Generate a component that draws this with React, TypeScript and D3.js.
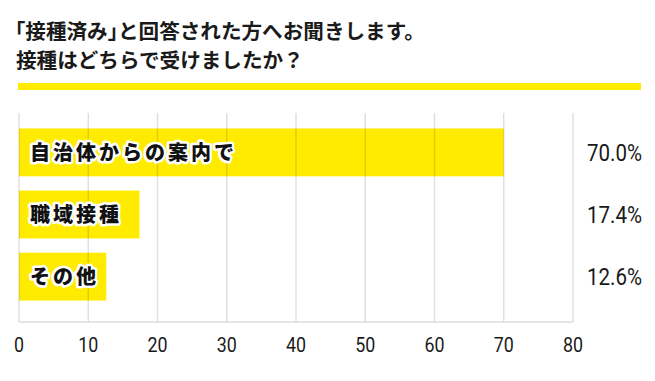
import React from "react";
import * as d3 from "d3";

const titleLine1 = ["「", "接種済み", "」", "と回答された方へお聞きします。"];
const titleLine2 = "接種はどちらで受けましたか？";
const categories = ["自治体からの案内で", "職域接種", "その他"];
const values = [70.0, 17.4, 12.6];
const valueLabels = ["70.0%", "17.4%", "12.6%"];
const xTicks = [0, 10, 20, 30, 40, 50, 60, 70, 80];

const W = 655;
const H = 381;
const YELLOW = "#FFEB00";

export default function App() {
  const x = d3.scaleLinear().domain([0, 80]).range([19, 573]);
  const y = d3.scaleBand<string>().domain(categories).range([121, 308]).paddingInner(0.23).paddingOuter(0.12);
  const gridTop = 113;
  const gridBottom = 322;
  const cjk = "'Noto Sans CJK JP', 'Noto Sans', sans-serif";
  const num = "Roboto, 'DejaVu Sans', sans-serif";
  const halt = { fontFeatureSettings: '"halt"' } as React.CSSProperties;
  return (
    <svg width={W} height={H} style={{ position: "absolute", left: 0, top: 0, background: "#fff" }}>
      <text x={15} y={39} fontFamily={cjk} fontSize={20.6} fontWeight={700} fill="#1a1a1a">
        {titleLine1.map((s, i) => (
          <tspan key={i} style={i === 0 || i === 2 ? halt : undefined}>
            {s}
          </tspan>
        ))}
      </text>
      <text x={16} y={68} fontFamily={cjk} fontSize={20.6} fontWeight={700} fill="#1a1a1a">
        {titleLine2}
      </text>
      <rect x={18} y={83} width={623} height={7} fill={YELLOW} />
      {categories.map((c, i) => (
        <rect key={c} x={x(0)} y={y(c)} width={x(values[i]) - x(0)} height={y.bandwidth()} fill={YELLOW} />
      ))}
      {xTicks.map((t) => (
        <line key={t} x1={x(t)} x2={x(t)} y1={gridTop} y2={gridBottom} stroke="rgba(0,0,0,0.12)" strokeWidth={1.5} />
      ))}
      <line x1={x(0)} x2={x(80)} y1={gridBottom} y2={gridBottom} stroke="#ddd" strokeWidth={1.5} />
      {categories.map((c) => (
        <text
          key={c}
          x={30}
          y={y(c)! + y.bandwidth() / 2}
          dy="0.36em"
          fontFamily={cjk}
          fontSize={20}
          fontWeight={900}
          letterSpacing={3}
          fill="#111"
          stroke="#fff"
          strokeWidth={5}
          strokeLinejoin="round"
          style={{ paintOrder: "stroke" }}
        >
          {c}
        </text>
      ))}
      {categories.map((c, i) => (
        <text
          key={c + "v"}
          x={642}
          y={y(c)! + y.bandwidth() / 2}
          dy="0.36em"
          textAnchor="end"
          fontFamily={num}
          fontSize={23}
          fill="#1a1a1a"
          textLength={55}
          lengthAdjust="spacingAndGlyphs"
        >
          {valueLabels[i]}
        </text>
      ))}
      {xTicks.map((t) => (
        <text
          key={t + "l"}
          x={x(t)}
          y={344.5}
          dy="0.36em"
          textAnchor="middle"
          fontFamily={num}
          fontSize={21}
          fill="#1a1a1a"
          transform={`translate(${x(t)},0) scale(0.85,1) translate(${-x(t)},0)`}
        >
          {t}
        </text>
      ))}
    </svg>
  );
}
